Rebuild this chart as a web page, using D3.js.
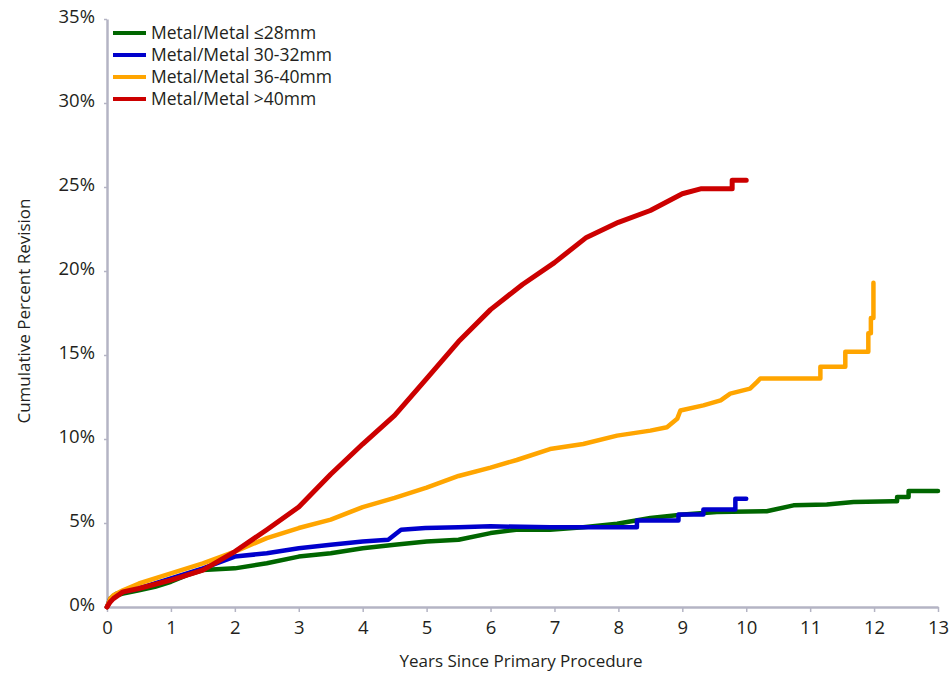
<!DOCTYPE html>
<html lang="en">
<head>
<meta charset="utf-8">
<script src="https://cdn.jsdelivr.net/npm/d3@7"></script>
<style type="text/css">
body {
	margin: 0;
	background: #fff;
}
text {
	font-family: "Open Sans", "Noto Sans", sans-serif;
	fill: #231f20;
}
</style>
</head>
<body>
<script type="text/javascript">

// series names, in legend order
var seriesNames = ["Metal/Metal \u226428mm", "Metal/Metal 30-32mm", "Metal/Metal 36-40mm", "Metal/Metal >40mm"];

// years and cumulative percent revision
var yearsLe28 = [0, 0.05, 0.15, 0.25, 0.5, 0.75, 1, 1.25, 1.5, 2, 2.5, 3, 3.5, 4, 4.5, 5, 5.5, 6, 6.4, 6.93, 7.45, 7.98, 8.5, 9.02, 9.54, 10.32, 10.74, 11.26, 11.68, 12.3, 12.36, 12.36, 12.54, 12.54, 13];
var pctLe28   = [0, 0.4, 0.7, 0.8, 1.0, 1.2, 1.5, 1.9, 2.2, 2.3, 2.6, 3.0, 3.2, 3.5, 3.7, 3.9, 4.0, 4.4, 4.6, 4.6, 4.75, 4.95, 5.3, 5.5, 5.65, 5.7, 6.05, 6.1, 6.25, 6.3, 6.3, 6.55, 6.55, 6.9, 6.9];

var years3032 = [0, 0.05, 0.15, 0.25, 0.5, 1, 1.5, 2, 2.5, 3, 3.5, 4, 4.4, 4.5, 4.6, 4.98, 5.5, 6, 6.93, 8.24, 8.29, 8.29, 8.94, 8.94, 9.33, 9.33, 9.83, 9.83, 10.0];
var pct3032   = [0, 0.5, 0.8, 0.9, 1.1, 1.7, 2.3, 3.0, 3.2, 3.5, 3.7, 3.9, 4.0, 4.3, 4.6, 4.7, 4.75, 4.8, 4.75, 4.75, 4.75, 5.15, 5.15, 5.5, 5.5, 5.8, 5.8, 6.45, 6.45];

var years3640 = [0, 0.05, 0.1, 0.25, 0.5, 1, 1.5, 2, 2.5, 3, 3.5, 4, 4.5, 5, 5.5, 6, 6.41, 6.93, 7.45, 7.98, 8.5, 8.76, 8.92, 8.97, 9.33, 9.6, 9.75, 10.06, 10.17, 10.22, 11.16, 11.16, 11.55, 11.55, 11.91, 11.91, 11.95, 11.95, 11.99, 11.99];
var pct3640   = [0, 0.5, 0.7, 1.0, 1.4, 2.0, 2.6, 3.3, 4.1, 4.7, 5.2, 5.95, 6.5, 7.1, 7.8, 8.3, 8.75, 9.4, 9.7, 10.2, 10.5, 10.7, 11.2, 11.7, 12.0, 12.3, 12.7, 13.0, 13.4, 13.6, 13.6, 14.3, 14.3, 15.2, 15.2, 16.3, 16.3, 17.2, 17.2, 19.3];

var yearsGt40 = [0, 0.05, 0.1, 0.25, 0.5, 1, 1.5, 2, 2.5, 3, 3.5, 4, 4.5, 5, 5.5, 6, 6.5, 7, 7.5, 8, 8.5, 9, 9.3, 9.78, 9.78, 10.0];
var pctGt40   = [0, 0.3, 0.5, 0.9, 1.1, 1.6, 2.2, 3.3, 4.6, 5.95, 7.9, 9.7, 11.4, 13.6, 15.8, 17.7, 19.2, 20.5, 22.0, 22.9, 23.6, 24.6, 24.9, 24.9, 25.4, 25.4];

var colors = ["#006600", "#0000cc", "#ffa500", "#cc0000"];

var xTicks = [0, 1, 2, 3, 4, 5, 6, 7, 8, 9, 10, 11, 12, 13];
var yTicks = [0, 5, 10, 15, 20, 25, 30, 35];

var width = 952;
var height = 674;

var x = d3.scaleLinear().domain([0, 13]).range([107, 938]);
var y = d3.scaleLinear().domain([0, 35]).range([607, 19]);

var svg = d3.select("body")
			.append("svg")
			.attr("width", width)
			.attr("height", height);

// axes
var xAxis = svg.append("g")
	.attr("transform", "translate(0,607)")
	.call(d3.axisBottom(x).tickValues(xTicks).tickSize(5).tickSizeOuter(0).tickPadding(5));
var yAxis = svg.append("g")
	.attr("transform", "translate(107,0)")
	.call(d3.axisLeft(y).tickValues(yTicks).tickSize(3).tickSizeOuter(0).tickPadding(9).tickFormat(d => d + "%"));

[xAxis, yAxis].forEach(function(a) {
	a.select(".domain").attr("stroke", "#b4b4c4").attr("stroke-width", 2.5);
	a.selectAll(".tick line").attr("stroke", "#b4b4c4").attr("stroke-width", 1.5);
	a.selectAll(".tick text")
		.style("font-family", "\"Open Sans\", sans-serif")
		.style("font-size", "18.5px")
		.attr("fill", "#231f20");
});
xAxis.selectAll(".tick text").attr("dy", "0.9em");
yAxis.selectAll(".tick text").attr("dy", "0.2em");

// axis titles
svg.append("text")
	.attr("x", 521)
	.attr("y", 667)
	.attr("text-anchor", "middle")
	.style("font-size", "17px")
	.text("Years Since Primary Procedure");

svg.append("text")
	.attr("transform", "translate(30,311) rotate(-90)")
	.attr("text-anchor", "middle")
	.style("font-size", "17px")
	.text("Cumulative Percent Revision");

// curves
var allYears = [yearsLe28, years3032, years3640, yearsGt40];
var allPct = [pctLe28, pct3032, pct3640, pctGt40];

var line = d3.line()
	.x(d => x(d[0]))
	.y(d => y(d[1]));

allYears.forEach(function(yrs, i) {
	var pts = yrs.map((t, j) => [t, allPct[i][j]]);
	svg.append("path")
		.datum(pts)
		.attr("d", line)
		.attr("fill", "none")
		.attr("stroke", colors[i])
		.attr("stroke-width", i == 3 ? 5 : 4.5)
		.attr("stroke-linejoin", "round")
		.attr("stroke-linecap", "round");
});

// legend
var legend = svg.append("g");
seriesNames.forEach(function(name, i) {
	var ly = 33 + i * 22;
	legend.append("line")
		.attr("x1", 113).attr("x2", 146)
		.attr("y1", ly).attr("y2", ly)
		.attr("stroke", colors[i])
		.attr("stroke-width", 4);
	legend.append("text")
		.attr("x", 151)
		.attr("y", ly)
		.attr("dy", "0.36em")
		.style("font-size", "17.5px")
		.text(name);
});

</script>
</body>
</html>
